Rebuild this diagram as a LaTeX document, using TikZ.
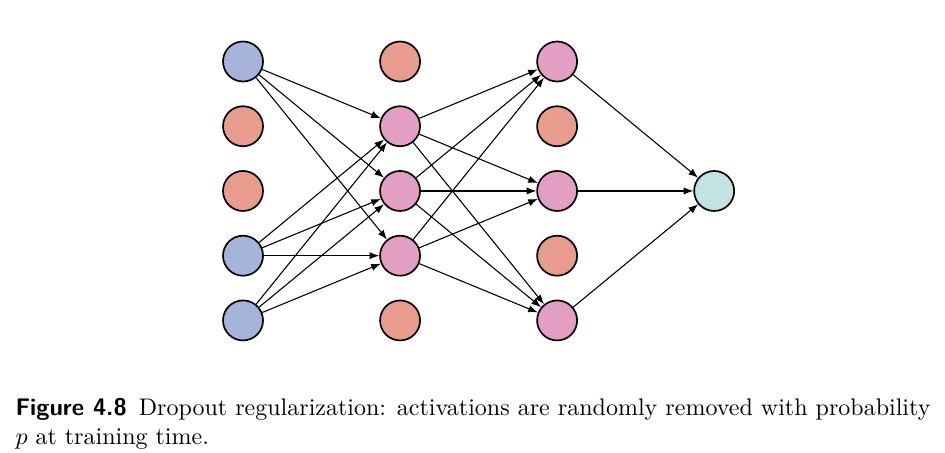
\documentclass[tikz,border=0pt]{standalone}
\usepackage{fontspec}
\usetikzlibrary{arrows.meta}

\definecolor{inblue}{RGB}{166,180,218}
\definecolor{dropred}{RGB}{232,156,142}
\definecolor{hidpink}{RGB}{226,158,195}
\definecolor{outcyan}{RGB}{195,226,226}

\tikzset{
    neuron/.style={circle, draw=black, line width=0.7pt, minimum size=0.586cm, inner sep=0pt},
    conn/.style={-{Latex[length=4pt,width=3pt]}, line width=0.45pt}
}

\begin{document}
\begin{tikzpicture}
    \useasboundingbox (0,0) rectangle (13.84,6.62);

    %Input
    \node[neuron, fill=inblue]  (I1) at (3.559,5.719) {};
    \node[neuron, fill=dropred] (I2) at (3.559,4.771) {};
    \node[neuron, fill=dropred] (I3) at (3.559,3.823) {};
    \node[neuron, fill=inblue]  (I4) at (3.559,2.875) {};
    \node[neuron, fill=inblue]  (I5) at (3.559,1.927) {};

    %Hidden 1
    \node[neuron, fill=dropred] (HA1) at (5.859,5.719) {};
    \node[neuron, fill=hidpink] (HA2) at (5.859,4.771) {};
    \node[neuron, fill=hidpink] (HA3) at (5.859,3.823) {};
    \node[neuron, fill=hidpink] (HA4) at (5.859,2.875) {};
    \node[neuron, fill=dropred] (HA5) at (5.859,1.927) {};

    %Hidden 2
    \node[neuron, fill=hidpink] (HB1) at (8.159,5.719) {};
    \node[neuron, fill=dropred] (HB2) at (8.159,4.771) {};
    \node[neuron, fill=hidpink] (HB3) at (8.159,3.823) {};
    \node[neuron, fill=dropred] (HB4) at (8.159,2.875) {};
    \node[neuron, fill=hidpink] (HB5) at (8.159,1.927) {};

    %Output
    \node[neuron, fill=outcyan] (OUT) at (10.459,3.823) {};

    \draw[conn] (I1) -- (HA2);
    \draw[conn] (I1) -- (HA3);
    \draw[conn] (I1) -- (HA4);
    \draw[conn] (I4) -- (HA2);
    \draw[conn] (I4) -- (HA3);
    \draw[conn] (I4) -- (HA4);
    \draw[conn] (I5) -- (HA2);
    \draw[conn] (I5) -- (HA3);
    \draw[conn] (I5) -- (HA4);

    \draw[conn] (HA2) -- (HB1);
    \draw[conn] (HA2) -- (HB3);
    \draw[conn] (HA2) -- (HB5);
    \draw[conn] (HA3) -- (HB1);
    \draw[conn] (HA3) -- (HB3);
    \draw[conn] (HA3) -- (HB5);
    \draw[conn] (HA4) -- (HB1);
    \draw[conn] (HA4) -- (HB3);
    \draw[conn] (HA4) -- (HB5);

    \draw[conn] (HB1) -- (OUT);
    \draw[conn] (HB3) -- (OUT);
    \draw[conn] (HB5) -- (OUT);

    %Caption
    \node[anchor=north west, inner sep=0pt, text width=13.40cm, align=justify] (CAP) at (0.22,0.79)
        {{\sffamily\bfseries Figure 4.8}\enspace Dropout regularization: activations are randomly removed with probability $p$ at training time.};
\end{tikzpicture}
\end{document}
